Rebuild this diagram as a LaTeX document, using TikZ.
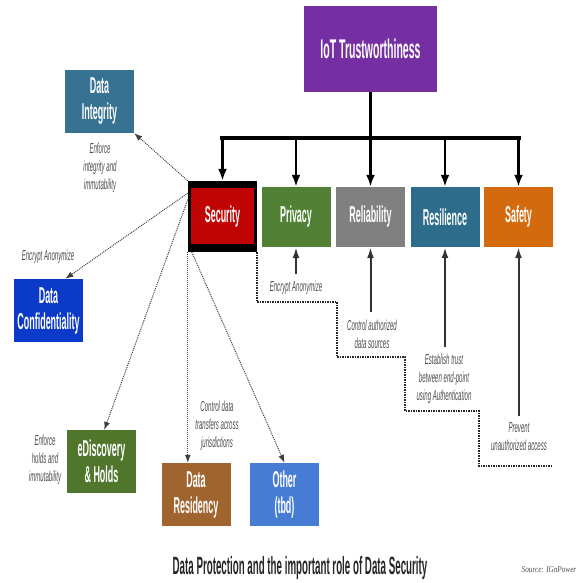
\documentclass[tikz,border=0pt]{standalone}
\usepackage{fontspec}
\usepackage{tikz}
\usetikzlibrary{arrows.meta}
\newfontfamily\boxfont[FakeStretch=0.39]{Liberation Sans}
\newfontfamily\notefont[FakeStretch=0.42]{Liberation Sans}
\newfontfamily\srcfont[FakeStretch=0.8]{Liberation Serif}
\definecolor{iotpurple}{RGB}{117,47,162}
\definecolor{secred}{RGB}{192,4,4}
\definecolor{privgreen}{RGB}{82,128,52}
\definecolor{relgray}{RGB}{128,128,128}
\definecolor{resblue}{RGB}{46,108,140}
\definecolor{saforange}{RGB}{212,106,14}
\definecolor{integblue}{RGB}{56,114,146}
\definecolor{confblue}{RGB}{12,58,200}
\definecolor{discgreen}{RGB}{80,118,44}
\definecolor{residbrown}{RGB}{160,100,46}
\definecolor{othblue}{RGB}{70,124,212}
\tikzstyle{box}=[rectangle,inner sep=0.5pt,minimum width=69pt,
                 minimum height=60pt,align=center,text=white,
                 font=\boxfont\bfseries\fontsize{23}{26}\selectfont]
\tikzstyle{note}=[align=center,inner sep=2pt,text=black!70,
                  font=\notefont\itshape\fontsize{14.5}{18}\selectfont]
\tikzstyle{down}=[line width=2.5pt,-{Latex[length=12pt,width=9pt]}]
\tikzstyle{up}=[line width=2pt,draw=black!80,shorten <=5pt,
                -{Latex[length=11pt,width=7pt]}]
\tikzstyle{dots}=[densely dotted,line width=1pt,draw=black!75,
                  -{Latex[length=8pt,width=6pt]}]
\tikzstyle{stair}=[dash pattern=on 1.5pt off 1pt,line width=2pt,
                   draw=black!85]

\begin{document}
\begin{tikzpicture}[x=1pt,y=-1pt]
    \useasboundingbox (0,0) rectangle (586,582);
    \newcommand{\yb}{217}
    \node (iot) at (370.5,  49) [box,fill=iotpurple,minimum width=133pt,
                                 minimum height=86pt,
                                 font=\boxfont\bfseries\fontsize{27}{30}\selectfont]
                                {IoT Trustworthiness};
    \node (sec) at (222.5,216.5) [box,fill=black,minimum height=71pt,
        path picture={\fill[secred]
          ([shift={(2.5pt,-7pt)}]path picture bounding box.north west)
          rectangle
          ([shift={(-3pt,8pt)}]path picture bounding box.south east);}]
                                {Security};
    \node (priv) at (296,  \yb) [box,fill=privgreen]{Privacy};
    \node (rel)  at (370.5,\yb) [box,fill=relgray]{Reliability};
    \node (res)  at (445,  \yb) [box,fill=resblue]{Resilience};
    \node (saf)  at (518.5,\yb) [box,fill=saforange]{Safety};
    \node (integ) at (99.5,101.5) [box,fill=integblue,minimum height=63pt]
                                {Data\\Integrity};
    \node (conf)  at (48.5,310.5) [box,fill=confblue,minimum height=63pt]
                                {Data\\Confidentiality};
    \node (disc)  at (101.5,461.5)[box,fill=discgreen,minimum height=63pt]
                                {eDiscovery\\\& Holds};
    \node (resid) at (196,494.5)  [box,fill=residbrown,minimum height=63pt]
                                {Data\\Residency};
    \node (oth)   at (284.5,494.5)[box,fill=othblue,minimum height=63pt]
                                {Other\\(tbd)};

    \node (t1) at (100,168) [note]{Enforce\\integrity and\\immutability};
    \node (t2) at (48, 257) [note]{Encrypt Anonymize};
    \node (t3) at (45, 460) [note]{Enforce\\holds and\\immutability};
    \node (t4) at (217,426) [note]{Control data\\transfers across\\jurisdictions};
    \node (t5) at (296,288) [note]{Encrypt Anonymize};
    \node (t6) at (372,334) [note]{Control authorized\\data sources};
    \node (t7) at (444,379) [note]{Establish trust\\between end-point\\using Authentication};
    \node (t8) at (519,437) [note]{Prevent\\unauthorized access};

    \coordinate (bus) at (0,138);
    \draw[line width=3pt] (iot.south) -- (iot.south |- bus);
    \draw[line width=4.5pt,line cap=rect] (sec.north |- bus) -- (saf.north |- bus);
    \foreach \b in {sec,priv,rel,res,saf}
      \draw[down] (\b.north |- bus) -- (\b.north);

    \foreach \t/\b in {t5/priv,t6/rel,t7/res,t8/saf}
      \draw[up] (\b.south |- \t.north) -- (\b.south);

    \draw[dots] (sec.north west) -- (integ.south east);
    \draw[dots] (sec.146) -- (conf.62);
    \draw[dots] (sec.154) -- (disc.85);
    \draw[dots] (sec.south west) -- (sec.south west |- resid.north);
    \draw[dots] ([xshift=4pt]sec.south west) -- (oth.north);

    \draw[stair] (sec.south east) |- (337,302) |- (405,357)
                 |- (479,411) |- (553,466);

    \node (cap) at (300,568) [text=black!85,
                  font=\boxfont\bfseries\fontsize{25}{28}\selectfont]
                  {Data Protection and the important role of Data Security};
    \node (src) at (549,570) [text=black!70,
                  font=\srcfont\itshape\fontsize{9}{11}\selectfont]
                  {Source: IGnPower};
\end{tikzpicture}
\end{document}
